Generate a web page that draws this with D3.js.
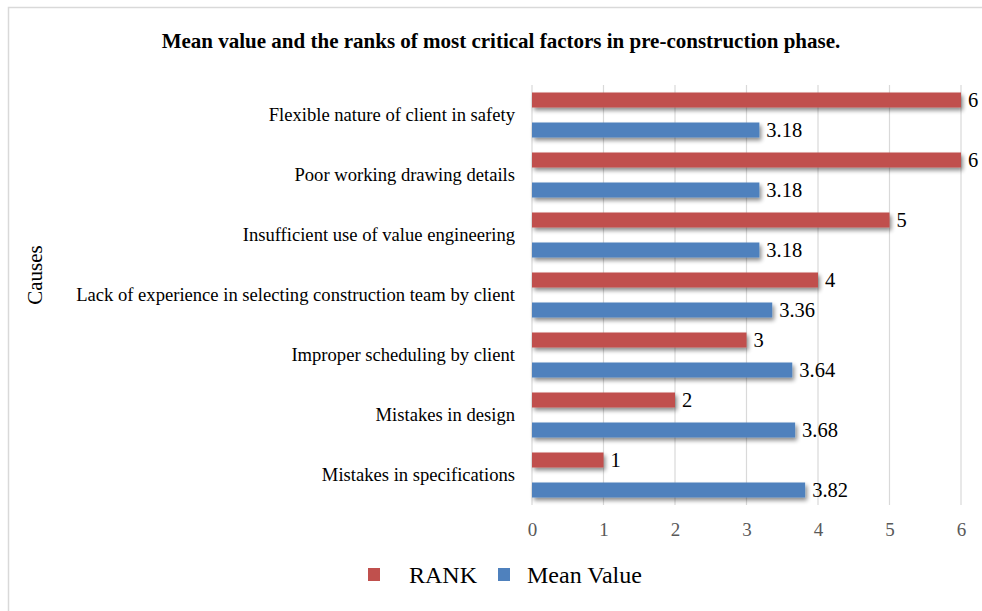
<!DOCTYPE html>
<html>
<head>
<meta charset="utf-8">
<script src="https://cdn.jsdelivr.net/npm/d3@7"></script>
<style>
body { margin: 0; background: #fff; }
svg text { font-family: "Liberation Serif", "Times New Roman", serif; }
</style>
</head>
<body>
<script>
// chart values, top category first
var causes = [
	'Flexible nature of client in safety ',
	'Poor working drawing details',
	'Insufficient use of value engineering',
	'Lack of experience in selecting construction team by client',
	'Improper scheduling by client',
	'Mistakes in design',
	'Mistakes in specifications'
];
var rankValues = [6, 6, 5, 4, 3, 2, 1];
var meanValues = [3.18, 3.18, 3.18, 3.36, 3.64, 3.68, 3.82];
var seriesNames = ['RANK', 'Mean Value'];
var xTicks = [0, 1, 2, 3, 4, 5, 6];

var colors = { 'RANK': '#C0504D', 'Mean Value': '#4F81BD' };

var width = 982,
	height = 611,
	margin = { top: 85, right: 21, bottom: 106, left: 532 };

var svg = d3.select('body').append('svg')
	.attr('width', width)
	.attr('height', height);

// bar shadow like the office chart
var defs = svg.append('defs');
var filter = defs.append('filter').attr('id', 'shadow')
	.attr('x', '-5%').attr('y', '-30%').attr('width', '115%').attr('height', '190%');
filter.append('feGaussianBlur').attr('in', 'SourceAlpha').attr('stdDeviation', 2);
filter.append('feOffset').attr('dx', 2).attr('dy', 3).attr('result', 'ob');
filter.append('feComponentTransfer').append('feFuncA').attr('type', 'linear').attr('slope', 0.45);
var merge = filter.append('feMerge');
merge.append('feMergeNode');
merge.append('feMergeNode').attr('in', 'SourceGraphic');

// outer frame (top and left edges only)
svg.append('path')
	.attr('d', 'M8.5,' + height + 'V7.5H' + width)
	.attr('fill', 'none')
	.attr('stroke', '#d9d9d9')
	.attr('stroke-width', 1.5);

var w = width - margin.left - margin.right,
	h = height - margin.top - margin.bottom;

var xScale = d3.scaleLinear().domain([0, 6]).range([0, 429]);
var y0 = d3.scaleBand().domain(causes).range([0, h]).padding(0);
var y1 = d3.scaleBand().domain(seriesNames).range([0, y0.bandwidth()])
	.paddingInner(0.5).paddingOuter(0.25);

var g = svg.append('g')
	.attr('transform', 'translate(' + margin.left + ',' + margin.top + ')');

// gridlines
g.selectAll('.grid')
	.data(xTicks)
	.enter().append('line')
	.attr('class', 'grid')
	.attr('x1', function(d) { return xScale(d); })
	.attr('x2', function(d) { return xScale(d); })
	.attr('y1', 0)
	.attr('y2', h)
	.attr('stroke', '#d9d9d9')
	.attr('stroke-width', 1.2);

// x axis
var xAxis = d3.axisBottom(xScale).tickValues(xTicks).tickFormat(d3.format('d'))
	.tickSize(0).tickPadding(18);
var ax = g.append('g')
	.attr('class', 'axis axis--x')
	.attr('transform', 'translate(0,' + h + ')')
	.call(xAxis);
ax.attr('font-family', null).attr('font-size', null);
ax.select('.domain').remove();
ax.selectAll('text')
	.attr('font-size', 19)
	.attr('fill', '#595959');

// y category labels
var yAxis = d3.axisLeft(y0).tickSize(0).tickPadding(17);
var ay = g.append('g')
	.attr('class', 'axis axis--y')
	.call(yAxis);
ay.attr('font-family', null).attr('font-size', null);
ay.select('.domain').remove();
ay.selectAll('text')
	.attr('font-size', 18.6)
	.attr('fill', '#000')
	.attr('dy', '0.3em');

// rows built from the arrays
var rows = causes.map(function(c, i) {
	return { cause: c, values: [
		{ key: 'RANK', value: rankValues[i] },
		{ key: 'Mean Value', value: meanValues[i] }
	] };
});

var groups = g.selectAll('.cause')
	.data(rows)
	.enter().append('g')
	.attr('class', 'cause')
	.attr('transform', function(d) { return 'translate(0,' + y0(d.cause) + ')'; });

groups.selectAll('.bar')
	.data(function(d) { return d.values; })
	.enter().append('rect')
	.attr('class', 'bar')
	.attr('x', 0)
	.attr('y', function(d) { return y1(d.key); })
	.attr('width', function(d) { return xScale(d.value); })
	.attr('height', y1.bandwidth())
	.attr('fill', function(d) { return colors[d.key]; })
	.attr('filter', 'url(#shadow)');

groups.selectAll('.bar-label')
	.data(function(d) { return d.values; })
	.enter().append('text')
	.attr('class', 'bar-label')
	.attr('x', function(d) { return xScale(d.value) + 7; })
	.attr('y', function(d) { return y1(d.key) + y1.bandwidth() / 2; })
	.attr('dy', '0.35em')
	.attr('font-size', 20.5)
	.attr('fill', '#000')
	.text(function(d) { return d.value; });

// title
svg.append('text')
	.attr('x', 501)
	.attr('y', 48)
	.attr('text-anchor', 'middle')
	.attr('font-size', 21)
	.attr('font-weight', 'bold')
	.text('Mean value and the ranks of most critical factors in pre-construction phase.');

// y axis title
svg.append('text')
	.attr('transform', 'translate(42,275) rotate(-90)')
	.attr('text-anchor', 'middle')
	.attr('font-size', 21)
	.text('Causes');

// legend
var legend = svg.append('g').attr('class', 'legend');
var legendX = [368, 498];
seriesNames.forEach(function(s, i) {
	legend.append('rect')
		.attr('x', legendX[i])
		.attr('y', 568)
		.attr('width', 12)
		.attr('height', 13)
		.attr('fill', colors[s]);
	legend.append('text')
		.attr('x', legendX[i] + (i === 0 ? 41 : 29))
		.attr('y', 583)
		.attr('font-size', 24)
		.text(s);
});
</script>
</body>
</html>
